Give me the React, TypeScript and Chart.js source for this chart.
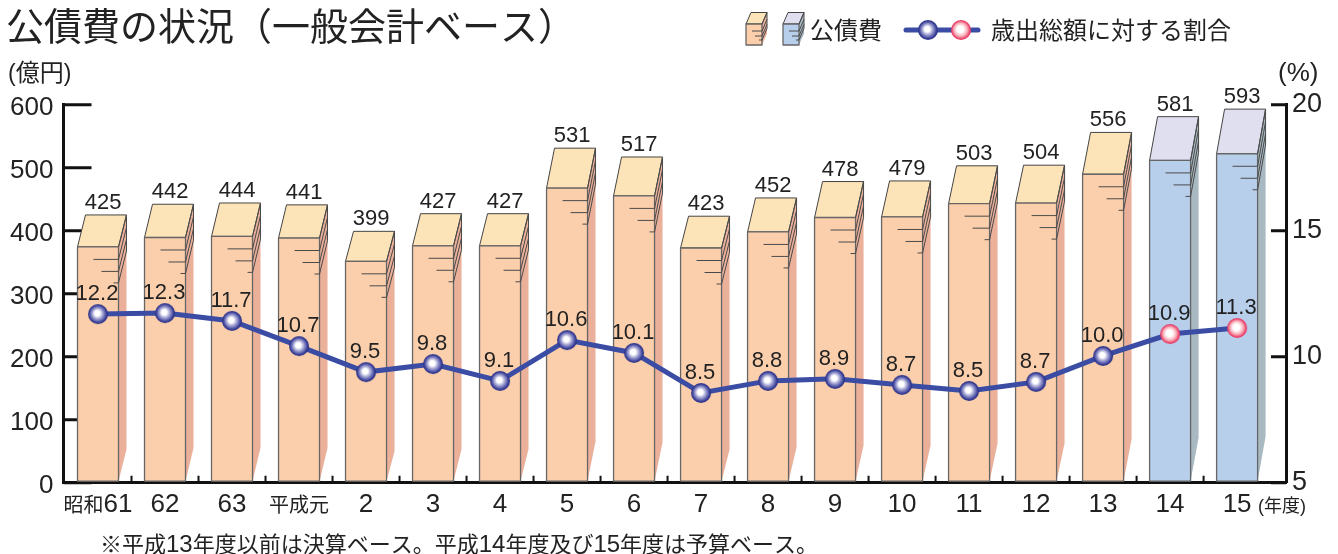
import React, { useEffect, useRef } from "react";
import { Chart, registerables } from "chart.js";

Chart.register(...registerables);

const categories = ["昭和61", "62", "63", "平成元", "2", "3", "4", "5", "6", "7", "8", "9", "10", "11", "12", "13", "14", "15"];
const debtValues = [425, 442, 444, 441, 399, 427, 427, 531, 517, 423, 452, 478, 479, 503, 504, 556, 581, 593];
const ratioLabels = ["12.2", "12.3", "11.7", "10.7", "9.5", "9.8", "9.1", "10.6", "10.1", "8.5", "8.8", "8.9", "8.7", "8.5", "8.7", "10.0", "10.9", "11.3"];
// heights of the markers as they are drawn in the picture (the printed figures are in ratioLabels)
const ratioPlotted = [11.69, 11.73, 11.42, 10.42, 9.39, 9.71, 9.04, 10.66, 10.15, 8.56, 9.04, 9.12, 8.88, 8.64, 9.0, 10.03, 10.9, 11.14];
const budgetFrom = 16;
const leftTicks = [0, 100, 200, 300, 400, 500, 600];
const rightTicks = [5, 10, 15, 20];

const LATIN = '"Liberation Sans", Arial, sans-serif';
const CJK = '"Noto Sans CJK JP", sans-serif';
const INK = "#222222";
const DEPTH_X = 8;
const DEPTH_RATIO = 0.12;

const ORANGE = { front: "#fccfac", top: "#fde3b8", side: "#ebb09a" };
const BLUE = { front: "#b8cfec", top: "#e0dff0", side: "#a8b9c2" };

function sphere(r: number, stops: [number, string][]) {
  const c = document.createElement("canvas");
  c.width = c.height = r * 2 + 2;
  const g = c.getContext("2d")!;
  const m = r + 1;
  const grad = g.createRadialGradient(m - 1, m - 1, 1, m, m, r);
  stops.forEach(([o, col]) => grad.addColorStop(o, col));
  g.fillStyle = grad;
  g.beginPath();
  g.arc(m, m, r, 0, Math.PI * 2);
  g.fill();
  return c;
}

function mixedRuns(text: string) {
  return text.match(/[0-9.%()]+|[^0-9.%()]+/g) || [];
}

function drawMixed(
  ctx: CanvasRenderingContext2D,
  text: string,
  x: number,
  y: number,
  latinSize: number,
  cjkSize: number,
  align: "left" | "center" = "left"
) {
  const runs = mixedRuns(text);
  const fontOf = (r: string) => (/^[0-9.%()]/.test(r) ? `${latinSize}px ${LATIN}` : `${cjkSize}px ${CJK}`);
  let w = 0;
  runs.forEach((r) => {
    ctx.font = fontOf(r);
    w += ctx.measureText(r).width;
  });
  let cur = align === "center" ? x - w / 2 : x;
  ctx.textAlign = "left";
  ctx.textBaseline = "alphabetic";
  runs.forEach((r) => {
    ctx.font = fontOf(r);
    ctx.fillText(r, cur, y);
    cur += ctx.measureText(r).width;
  });
}

function box3d(
  ctx: CanvasRenderingContext2D,
  l: number,
  r: number,
  top: number,
  base: number,
  dx: number,
  dy: number,
  pal: { front: string; top: string; side: string },
  rule: number[],
  ruleLen: number[]
) {
  const ft = top + dy;
  ctx.lineJoin = "round";
  ctx.fillStyle = pal.side;
  ctx.beginPath();
  ctx.moveTo(r, ft);
  ctx.lineTo(r + dx, top);
  ctx.lineTo(r + dx, base - dy);
  ctx.lineTo(r, base);
  ctx.closePath();
  ctx.fill();

  ctx.fillStyle = pal.top;
  ctx.strokeStyle = "#444444";
  ctx.lineWidth = 1;
  ctx.beginPath();
  ctx.moveTo(l, ft);
  ctx.lineTo(l + dx, top);
  ctx.lineTo(r + dx, top);
  ctx.lineTo(r, ft);
  ctx.closePath();
  ctx.fill();
  ctx.stroke();

  ctx.fillStyle = pal.front;
  ctx.strokeStyle = "#666666";
  ctx.lineWidth = 1.3;
  ctx.beginPath();
  ctx.rect(l, ft, r - l, base - ft);
  ctx.fill();
  ctx.stroke();

  ctx.strokeStyle = "#4a4a4a";
  ctx.lineWidth = 1;
  ctx.beginPath();
  ctx.moveTo(r, ft);
  ctx.lineTo(r + dx, top);
  rule.forEach((o, i) => {
    ctx.moveTo(r - ruleLen[i], ft + o);
    ctx.lineTo(r, ft + o);
    ctx.lineTo(r + dx, ft + o - dy);
  });
  ctx.moveTo(r + dx, top);
  ctx.lineTo(r + dx, ft + rule[2] - dy);
  ctx.stroke();
}

export default function App() {
  const ref = useRef<HTMLCanvasElement | null>(null);

  useEffect(() => {
    document.body.style.margin = "0";
    const blueBall = sphere(10, [
      [0, "#ffffff"],
      [0.18, "#ffffff"],
      [0.55, "#8e90c8"],
      [0.85, "#3a3f98"],
      [1, "#27307f"],
    ]);
    const redBall = sphere(10, [
      [0, "#ffffff"],
      [0.25, "#ffffff"],
      [0.6, "#f9b4bd"],
      [0.9, "#e9446c"],
      [1, "#e8305f"],
    ]);

    const boxes = {
      id: "boxes",
      afterDatasetDraw(chart: any, args: any) {
        if (args.index !== 0) return;
        const ctx = chart.ctx;
        ctx.save();
        const base = chart.scales.y.getPixelForValue(0) - 1.5;
        args.meta.data.forEach((el: any, i: number) => {
          const pal = i >= budgetFrom ? BLUE : ORANGE;
          const dy = (base - el.y) * DEPTH_RATIO;
          box3d(ctx, el.x - el.width / 2, el.x + el.width / 2, el.y, base, DEPTH_X, dy, pal, [12.5, 24.5, 36], [25, 17, 5]);
        });
        ctx.restore();
      },
    };

    const decor = {
      id: "decor",
      beforeDatasetsDraw(chart: any) {
        const ctx = chart.ctx;
        const { left, right } = chart.chartArea;
        const { x, y, y1 } = chart.scales;
        ctx.save();
        ctx.strokeStyle = "#111111";
        ctx.lineWidth = 3;
        ctx.beginPath();
        leftTicks.forEach((t) => {
          const p = y.getPixelForValue(t);
          ctx.moveTo(left, p);
          ctx.lineTo(left + 28, p);
        });
        rightTicks.forEach((t) => {
          const p = y1.getPixelForValue(t);
          ctx.moveTo(right, p);
          ctx.lineTo(right - 15, p);
        });
        ctx.stroke();
        ctx.lineWidth = 2;
        ctx.beginPath();
        categories.slice(0, -1).forEach((_, i) => {
          const p = x.getPixelForValue(i + 0.5);
          ctx.moveTo(p, y.bottom);
          ctx.lineTo(p, y.bottom - 7);
        });
        ctx.stroke();
        ctx.restore();
      },
      afterDatasetsDraw(chart: any) {
        const ctx = chart.ctx;
        const { x, y } = chart.scales;
        ctx.save();
        ctx.fillStyle = INK;
        const bars = chart.getDatasetMeta(0).data;
        const pts = chart.getDatasetMeta(1).data;
        ctx.textAlign = "center";
        ctx.textBaseline = "alphabetic";
        ctx.font = `22px ${LATIN}`;
        bars.forEach((el: any, i: number) => {
          ctx.fillText(String(debtValues[i]), el.x + 5, el.y - 6);
        });
        pts.forEach((el: any, i: number) => {
          ctx.fillText(ratioLabels[i], el.x - 1, el.y - 14);
        });
        categories.forEach((c, i) => {
          drawMixed(ctx, c, x.getPixelForValue(i), y.bottom + 29, 26, 20, "center");
        });

        ctx.font = `38px ${CJK}`;
        ctx.textAlign = "left";
        ctx.fillText("公債費の状況（一般会計ベース）", 6, 40);
        drawMixed(ctx, "(億円)", 8, 81, 23, 24);
        drawMixed(ctx, "(%)", 1278, 81, 26, 20);
        drawMixed(ctx, "(年度)", 1258, 512, 18, 18);
        drawMixed(ctx, "※平成13年度以前は決算ベース。平成14年度及び15年度は予算ベース。", 100, 552, 24, 22);

        box3d(ctx, 746, 762, 12.5, 45, 5, 11.5, ORANGE, [7, 12, 16], [10, 7, 3]);
        box3d(ctx, 783, 799, 12.5, 45, 5, 11.5, BLUE, [7, 12, 16], [10, 7, 3]);
        ctx.fillStyle = INK;
        ctx.font = `24px ${CJK}`;
        ctx.fillText("公債費", 810, 39);
        ctx.fillText("歳出総額に対する割合", 991, 39);
        ctx.strokeStyle = "#3a4ca3";
        ctx.lineWidth = 5;
        ctx.lineCap = "round";
        ctx.beginPath();
        ctx.moveTo(906, 30);
        ctx.lineTo(978, 30);
        ctx.stroke();
        ctx.drawImage(blueBall, 917, 19);
        ctx.drawImage(redBall, 950, 19);
        ctx.restore();
      },
    };

    const chart = new Chart(ref.current!, {
      type: "bar",
      plugins: [decor, boxes],
      data: {
        datasets: [
          {
            type: "bar",
            label: "公債費",
            data: debtValues.map((v, i) => ({ x: i, y: v })),
            yAxisID: "y",
            xAxisID: "x",
            barThickness: 41,
            backgroundColor: "rgba(0,0,0,0)",
            order: 2,
          },
          {
            type: "line",
            label: "歳出総額に対する割合",
            data: ratioPlotted.map((v, i) => ({ x: i, y: v })),
            yAxisID: "y1",
            xAxisID: "x",
            borderColor: "#3a4ca3",
            borderWidth: 5,
            tension: 0,
            pointStyle: ratioPlotted.map((_, i) => (i >= budgetFrom ? redBall : blueBall)),
            order: 1,
          },
        ] as any,
      },
      options: {
        responsive: false,
        animation: false,
        layout: { padding: { top: 104.7, left: 0, right: 0, bottom: 0 } },
        plugins: { legend: { display: false }, tooltip: { enabled: false } },
        scales: {
          x: {
            type: "linear",
            offset: false,
            min: -0.515,
            max: 17.73,
            grid: { display: false },
            border: { display: true, width: 3, color: "#111111" },
            ticks: { display: false, stepSize: 1 },
            afterFit: (s: any) => {
              s.height = 71.3;
            },
          },
          y: {
            position: "left",
            min: 0,
            max: 600,
            grid: { display: false },
            border: { display: true, width: 3, color: "#111111" },
            ticks: {
              stepSize: 100,
              padding: 2,
              labelOffset: 3,
              color: INK,
              font: { family: LATIN, size: 26 },
            },
            afterFit: (s: any) => {
              s.width = 63.5;
            },
          },
          y1: {
            position: "right",
            min: 5,
            max: 20,
            grid: { display: false },
            border: { display: true, width: 3, color: "#111111" },
            ticks: {
              stepSize: 5,
              padding: -2,
              color: INK,
              font: { family: LATIN, size: 27 },
            },
            afterFit: (s: any) => {
              s.width = 52;
            },
          },
        },
      } as any,
    });
    return () => chart.destroy();
  }, []);

  return <canvas ref={ref} width={1338} height={554} style={{ display: "block", width: 1338, height: 554 }} />;
}
